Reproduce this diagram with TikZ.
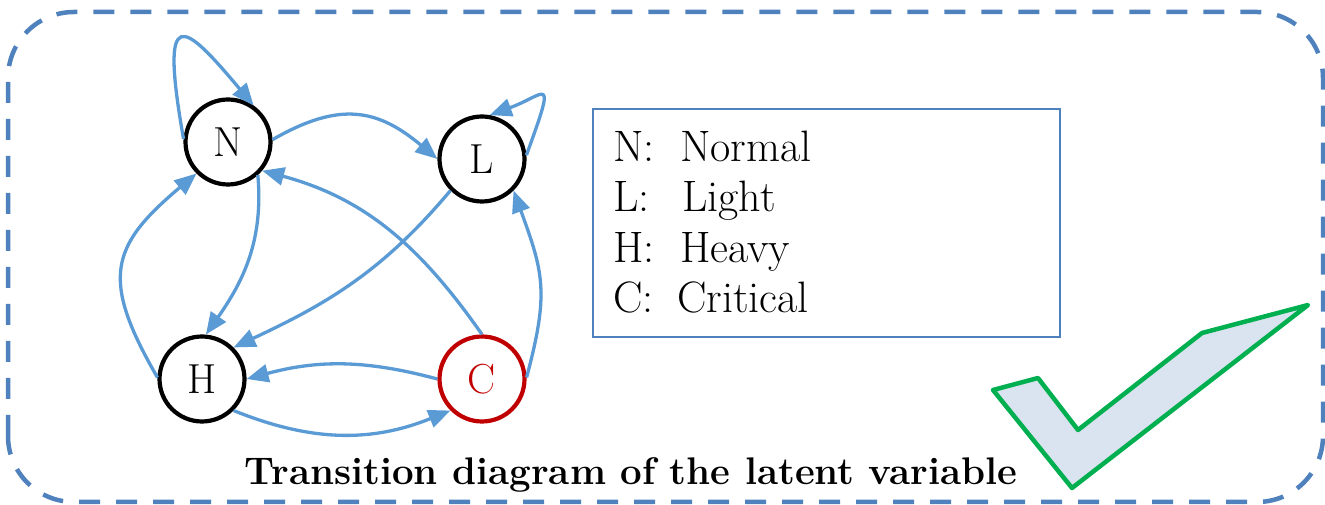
\documentclass[tikz,border=0pt]{standalone}
\usepackage{tikz}
\usetikzlibrary{arrows.meta}
\definecolor{frameblue}{RGB}{79,129,189}
\definecolor{edgeblue}{RGB}{91,155,213}
\definecolor{critred}{RGB}{192,0,0}
\definecolor{checkgreen}{RGB}{0,176,80}
\definecolor{checkfill}{RGB}{218,227,240}
\tikzset{
  frame/.style={draw=frameblue,line width=4.5pt,dash pattern=on 21pt off 16pt,rounded corners=66pt},
  state/.style={circle,draw=black,line width=4.2pt,minimum size=85pt,inner sep=0pt,
    font=\fontsize{42}{48}\selectfont},
  crit/.style={state,draw=critred,text=critred},
  trans/.style={-{Triangle[length=22pt,width=18pt]},draw=edgeblue,line width=3.3pt},
  legendbox/.style={draw=frameblue,line width=2.6pt,minimum width=467pt,minimum height=228pt,inner sep=0pt},
  legendline/.style={anchor=base west,inner sep=0pt,font=\fontsize{44}{50}\selectfont},
  caption/.style={anchor=base,inner sep=0pt,font=\bfseries\fontsize{38.5}{44}\selectfont},
  checkmark/.style={draw=checkgreen,fill=checkfill,line width=4.5pt,line join=round}
}
\begin{document}
\begin{tikzpicture}[x=1pt,y=1pt]
    \useasboundingbox (0,0) rectangle (1325,505);
    \draw[frame] (8,3) rectangle (1323,493);
    % states
    \node[state] (N) at (228,363) {N};
    \node[state] (L) at (482,346) {L};
    \node[state] (H) at (202,126) {H};
    \node[crit]  (C) at (482,126) {C};
    % transitions
    \draw[trans] (N.176) .. controls +(100:140) and +(130:110) .. (N.55);
    \draw[trans] (L.5) .. controls +(70:90) and +(20:60) .. (L.80);
    \draw[trans] (N.3) to[out=30,in=140,looseness=1.2] (L.180);
    \draw[trans] (C.90) to[out=125,in=-15] (N.-40);
    \draw[trans] (L.225) to[out=230,in=25] (H.45);
    \draw[trans] (N.-48) to[out=-85,in=55] (H.85);
    \draw[trans] (H.178) to[out=120,in=220,looseness=1.4] (N.225);
    \draw[trans] (C.2) to[out=75,in=-70,looseness=1.2] (L.-45);
    \draw[trans] (C.180) to[out=165,in=15] (H.0);
    \draw[trans] (H.-45) to[out=-22,in=202] (C.225);
    % legend
    \node[legendbox] (legend) at (826.5,282) {};
    \node[legendline] (lN) at (613,343) {\makebox[67pt][l]{N:}Normal};
    \node[legendline] (lL) at (613,293) {\makebox[69pt][l]{L:}Light};
    \node[legendline] (lH) at (613,242) {\makebox[67pt][l]{H:}Heavy};
    \node[legendline] (lC) at (613,192) {\makebox[64pt][l]{C:}Critical};
    \node[caption] (title) at (631,20) {Transition diagram of the latent variable};
    \draw[checkmark] (993,115) -- (1038,127) -- (1078,75) -- (1202,172) -- (1308,200) -- (1072,17) -- cycle;
\end{tikzpicture}
\end{document}
